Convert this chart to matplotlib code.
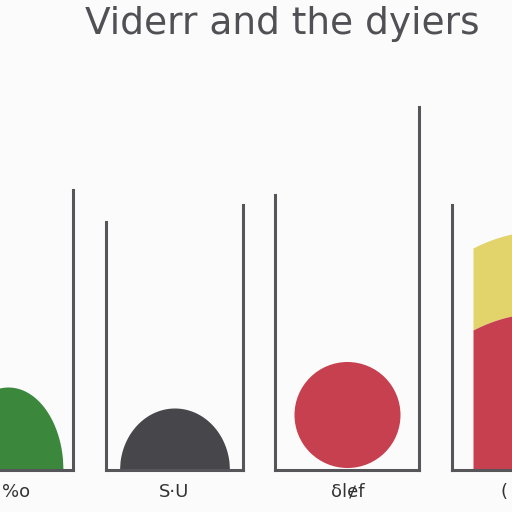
import numpy as np
import matplotlib
matplotlib.use("Agg")
import matplotlib.pyplot as plt

# values (pixel units, base of the boxes = 0)
labels = ["%o", "S\u00b7U", "\u03b4l\u0247f", "("]
dome_heights = [83, 62, 0, 0]        # green / grey domes
dome_halfwidth = [55, 55, 0, 0]
circle_radius = [0, 0, 53, 0]
bar_red = [0, 0, 0, 140]
bar_yellow = [0, 0, 0, 82]
title = "Viderr and the dyiers"

colors = ["#3b883d", "#47464b", "#c6404f", "#c6404f"]
yellow = "#e2d46a"
line_c = "#55555a"

fig = plt.figure(figsize=(5.12, 5.12), dpi=100)
fig.patch.set_facecolor("#fbfbfb")
ax = fig.add_axes([0, 0, 1, 1])
ax.set_xlim(0, 512)
ax.set_ylim(-42, 470)
ax.axis("off")

# box edges: (left x, left top, right x, right top)
boxes = [(-20, 0, 73, 280), (106, 248, 243, 265), (275, 275, 419, 363), (452, 265, 540, 0)]
centers = [8, 174.5, 347.5, 510]
label_x = [16, 174.5, 347.5, 504]

for i, (lx, lt, rx, rt) in enumerate(boxes):
    c = centers[i]
    if dome_heights[i]:
        x = np.linspace(c - dome_halfwidth[i], c + dome_halfwidth[i], 200)
        y = dome_heights[i] * np.sqrt(np.clip(1 - ((x - c) / dome_halfwidth[i]) ** 2, 0, 1))
        ax.fill_between(x, 0, y, color=colors[i], lw=0, zorder=2)
    if circle_radius[i]:
        r = circle_radius[i]
        ax.add_patch(plt.Circle((c, r + 2), r, color=colors[i], lw=0, zorder=2))
    if bar_red[i]:
        x = np.linspace(473, 512, 100)
        curve = 20 * (x - 473) / 39 - 6 * ((x - 473) / 39) ** 2
        ax.fill_between(x, 0, bar_red[i] + curve, color=colors[i], lw=0, zorder=2)
        ax.fill_between(x, bar_red[i] + curve, bar_red[i] + bar_yellow[i] + curve,
                        color=yellow, lw=0, zorder=1)
    ax.plot([lx, lx], [0, lt], color=line_c, lw=2.2, zorder=3)
    ax.plot([rx, rx], [0, rt], color=line_c, lw=2.2, zorder=3)
    ax.plot([lx, rx], [0, 0], color=line_c, lw=2.2, zorder=3)
    ax.text(label_x[i], -22, labels[i], ha="center", va="center", fontsize=13, color="#333333")

ax.text(282, 446, title, ha="center", va="center", fontsize=27, color="#505055")

fig.savefig("out.png", dpi=100, facecolor=fig.get_facecolor())
